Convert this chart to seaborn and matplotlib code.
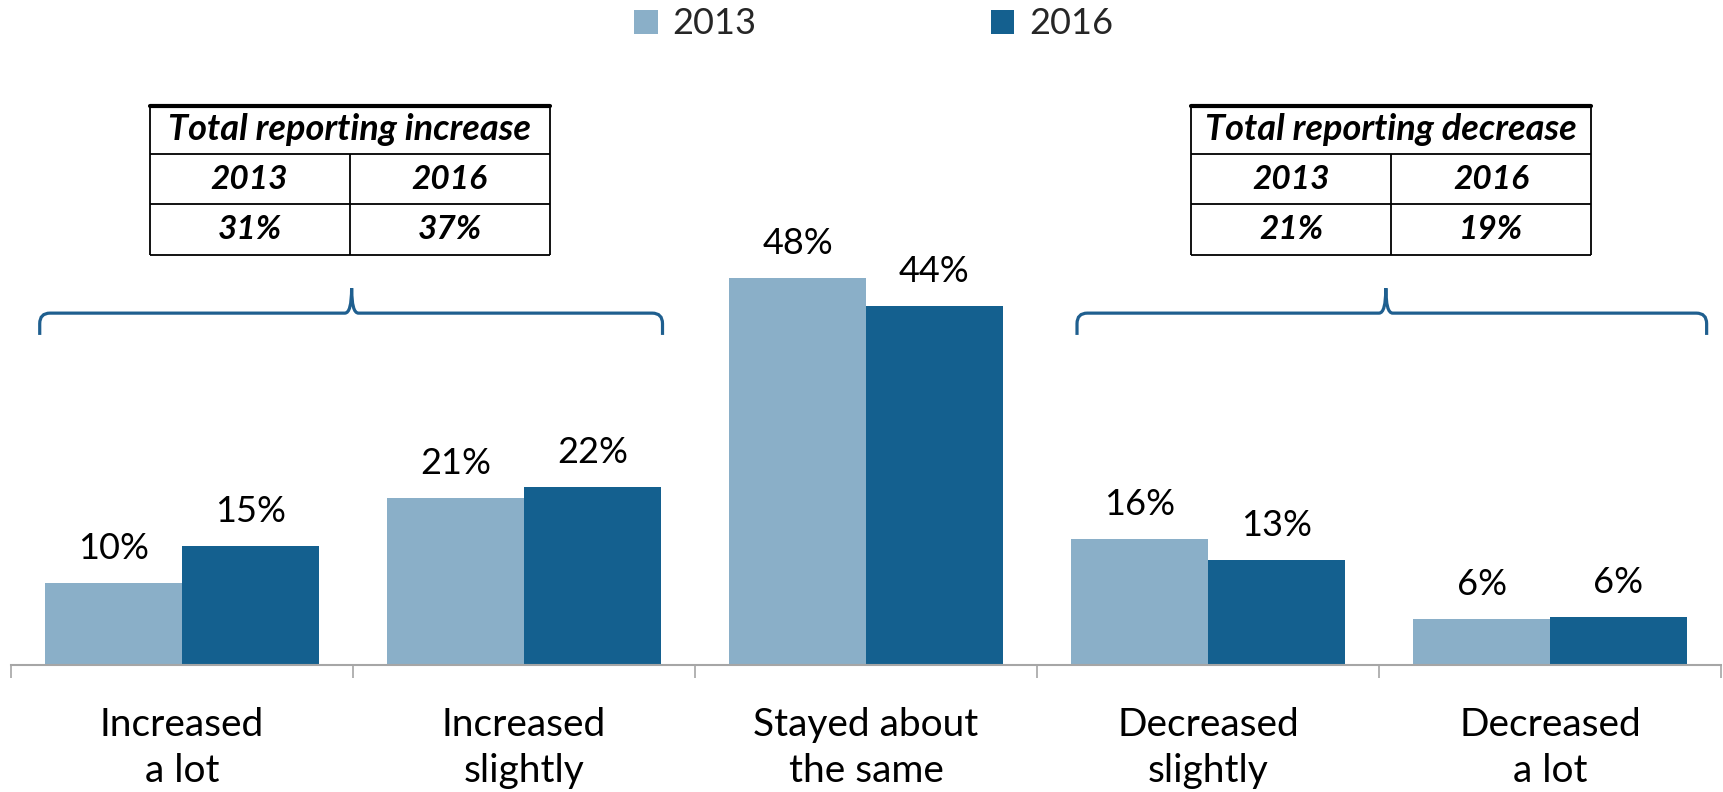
import numpy as np
import pandas as pd
import seaborn as sns
import matplotlib
import matplotlib.pyplot as plt
from matplotlib.path import Path
from matplotlib.patches import PathPatch

matplotlib.use('Agg')

# chart data
categories = ["Increased\na lot", "Increased\nslightly", "Stayed about\nthe same",
              "Decreased\nslightly", "Decreased\na lot"]
years = ["2013", "2016"]
values_2013 = [10.2, 20.7, 48.0, 15.6, 5.7]
values_2016 = [14.7, 22.1, 44.5, 13.0, 5.9]
labels_2013 = ["10%", "21%", "48%", "16%", "6%"]
labels_2016 = ["15%", "22%", "44%", "13%", "6%"]
year_colors = ["#8AAFC8", "#14608F"]

increase_title = "Total reporting increase"
increase_totals = ["31%", "37%"]
decrease_title = "Total reporting decrease"
decrease_totals = ["21%", "19%"]

brace_color = "#1F5F8F"
axis_gray = "#A6A6A6"

df = pd.DataFrame({
    "category": categories * 2,
    "year": [years[0]] * len(categories) + [years[1]] * len(categories),
    "value": values_2013 + values_2016,
})

sns.set_theme(style="white")
plt.rcParams['font.family'] = ['Lato', 'DejaVu Sans']

fig = plt.figure(figsize=(17.23, 7.92), dpi=100)
ax = fig.add_axes([11 / 1723, 127 / 792, 1710 / 1723, 665 / 792])

sns.barplot(data=df, x="category", y="value", hue="year", order=categories,
            hue_order=years, palette=year_colors, saturation=1, width=0.8,
            linewidth=0, ax=ax)

for cont, labs in zip(ax.containers, [labels_2013, labels_2016]):
    ax.bar_label(cont, labels=labs, padding=13, fontsize=26, color="black")

ax.set_xlim(-0.5, len(categories) - 0.5)
ax.set_ylim(0, 82.4)
ax.set_xlabel("")
ax.set_ylabel("")
ax.set_yticks([])
for s in ["left", "right", "top"]:
    ax.spines[s].set_visible(False)
ax.spines["bottom"].set_color(axis_gray)
ax.spines["bottom"].set_linewidth(1.5)

ax.set_xticks(range(len(categories)))
ax.set_xticklabels(categories, fontsize=28, linespacing=1.34)
ax.tick_params(axis="x", which="major", length=0, pad=30, colors="black")
ax.set_xticks(np.arange(-0.5, len(categories), 1), minor=True)
ax.tick_params(axis="x", which="minor", length=9, width=1.2, color=axis_gray,
               direction="out", bottom=True)

# legend on top
handles, labels = ax.get_legend_handles_labels()
ax.legend_.remove()
fig.legend(handles, labels, loc="center", bbox_to_anchor=(0.507, 0.97),
           ncol=2, frameon=False, fontsize=26, handlelength=0.65,
           handleheight=0.65, handletextpad=0.4, columnspacing=6.5)


def draw_table(xc, title, totals):
    hw = 0.585
    x0, x1 = xc - hw, xc + hw
    ys = [69.3, 63.3, 57.1, 50.8]
    kw = dict(color="black", lw=1.3, solid_capstyle="butt")
    ax.plot([x0, x1], [ys[0], ys[0]], color="black", lw=3, clip_on=False)
    for y in ys[1:]:
        ax.plot([x0, x1], [y, y], clip_on=False, **kw)
    ax.plot([x0, x0], [ys[0], ys[3]], clip_on=False, **kw)
    ax.plot([x1, x1], [ys[0], ys[3]], clip_on=False, **kw)
    ax.plot([xc, xc], [ys[1], ys[3]], clip_on=False, **kw)
    tk = dict(ha="center", va="center", fontweight="bold",
              fontstyle="italic", color="black")
    ax.text(xc, (ys[0] + ys[1]) / 2, title, fontsize=26, **tk)
    for i, (yr, tot) in enumerate(zip(years, totals)):
        cx = xc + (i - 0.5) * hw
        ax.text(cx, (ys[1] + ys[2]) / 2, yr, fontsize=24, **tk)
        ax.text(cx, (ys[2] + ys[3]) / 2, tot, fontsize=24, **tk)


def draw_brace(xl, xr, xt):
    yb, yh, yt = 40.9, 43.6, 46.7
    rx, ry = 0.03, 1.3
    tx = 0.02
    verts = [(xl, yb), (xl, yh - ry), (xl, yh), (xl + rx, yh),
             (xt - tx, yh), (xt, yh), (xt, yt),
             (xt, yh), (xt + tx, yh),
             (xr - rx, yh), (xr, yh), (xr, yh - ry), (xr, yb)]
    codes = [Path.MOVETO, Path.LINETO, Path.CURVE3, Path.CURVE3,
             Path.LINETO, Path.CURVE3, Path.CURVE3,
             Path.CURVE3, Path.CURVE3,
             Path.LINETO, Path.CURVE3, Path.CURVE3, Path.LINETO]
    ax.add_patch(PathPatch(Path(verts, codes), fill=False, edgecolor=brace_color,
                           lw=2.3, clip_on=False))


draw_table(0.49, increase_title, increase_totals)
draw_table(3.535, decrease_title, decrease_totals)
draw_brace(-0.416, 1.405, 0.496)
draw_brace(2.617, 4.458, 3.52)

fig.savefig("out.png", dpi=100)
